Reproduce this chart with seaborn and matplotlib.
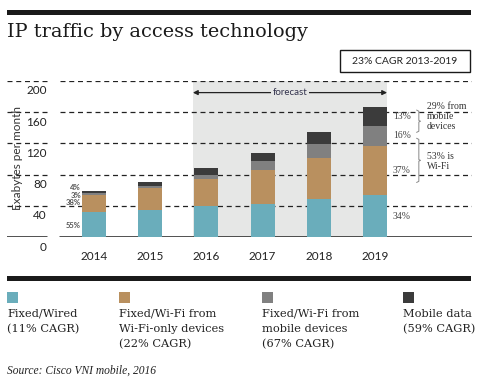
import numpy as np
import pandas as pd
import matplotlib.pyplot as plt
import matplotlib.transforms as mtransforms
from matplotlib.patches import Rectangle
import seaborn as sns

# --- data (Exabytes per month) ---
years = ['2014', '2015', '2016', '2017', '2018', '2019']
fixed_wired = [32.0, 34.9, 40.4, 43.0, 49.0, 54.1]
wifi_only = [22.5, 28.5, 34.1, 43.4, 52.7, 63.0]
wifi_mobile = [1.8, 2.6, 5.5, 11.5, 17.9, 25.5]
mobile_data = [2.5, 4.7, 8.6, 10.2, 15.4, 23.9]

series_names = ['Fixed/Wired\n(11% CAGR)',
                'Fixed/Wi-Fi from\nWi-Fi-only devices\n(22% CAGR)',
                'Fixed/Wi-Fi from\nmobile devices\n(67% CAGR)',
                'Mobile data\n(59% CAGR)']
colors = ['#6aadbb', '#b9905f', '#808080', '#3b3b3b']

y_ticks = [0, 40, 80, 120, 160, 200]
share_2014 = ['55%', '38%', '3%', '4%']
share_2014_y = [15.5, 44.5, 53.0, 63.0]
share_2019 = ['34%', '37%', '16%', '13%']

SERIF = 'Liberation Serif'
SERIF2 = 'DejaVu Serif'
SANS = 'Lato'

df = pd.DataFrame({'year': years, 'fixed': fixed_wired, 'wifi': wifi_only,
                   'wifi_mob': wifi_mobile, 'mobile': mobile_data})
layers = ['fixed', 'wifi', 'wifi_mob', 'mobile']
cum = df[layers].cumsum(axis=1)

sns.set_style("white")
W, H = 479, 385
fig = plt.figure(figsize=(W / 100, H / 100), dpi=100)

def fx(px):
    return px / W

def fy(py):
    return 1 - py / H

ax = fig.add_axes([fx(7), fy(237.3), fx(472) - fx(7), fy(80.7) - fy(237.3)])

# forecast shading
ax.axvspan(1.76, 5.215, color='#e6e7e6', zorder=0.2, lw=0)

# stacked bars: tallest first, then overlay the lower layers
for k in range(len(layers) - 1, -1, -1):
    sns.barplot(x=df['year'], y=cum[layers[k]], color=colors[k], width=0.427,
                saturation=1, linewidth=0, ax=ax, zorder=2)

ax.set_xlim(-1.548, 6.726)
ax.set_ylim(0, 200)
ax.set_xlabel('')
ax.set_ylabel('')
for s in ax.spines.values():
    s.set_visible(False)

# dashed grid, broken next to the tick labels
gap_l = (47 - 7) / 465
gap_r = (60 - 7) / 465
for t in y_ticks:
    if t == 0:
        kw = dict(color='#222222', lw=1.1, ls='-')
    else:
        kw = dict(color='#222222', lw=0.9, ls=(0, (4, 3)))
    ax.axhline(t, xmin=0, xmax=gap_l, zorder=0.5, **kw)
    ax.axhline(t, xmin=gap_r, xmax=1, zorder=0.5, **kw)

# y tick labels sit just below their grid line
ax.set_yticks([])
off = mtransforms.ScaledTranslation(0, -0.10, fig.dpi_scale_trans)
for t in y_ticks:
    ax.text(gap_l, t, str(t), transform=ax.get_yaxis_transform() + off,
            ha='right', va='center', fontsize=8.5, family=SANS, color='#222222')

ax.tick_params(axis='x', length=0, pad=10)
for lab in ax.get_xticklabels():
    lab.set_fontfamily(SANS)
    lab.set_fontsize(8.5)
    lab.set_color('#222222')

fig.text(fx(18), fy(158), 'Exabytes per month', rotation=90, ha='center',
         va='center', fontsize=8.5, family=SANS, color='#333333')

# share labels
for lab, y in zip(share_2014, share_2014_y):
    ax.text(-0.23, y, lab, ha='right', va='center', fontsize=5.5,
            family=SANS, color='#555555', fontweight='bold')
row = cum.iloc[-1].values
mids = [row[0] / 2] + [(row[i - 1] + row[i]) / 2 for i in range(1, 4)]
for lab, y in zip(share_2019, mids):
    ax.text(5.315, y, lab, ha='left', va='center', fontsize=7,
            family=SERIF, color='#444444')

# braces
def brace(x, y0, y1):
    ym = (y0 + y1) / 2
    xs = [x - 0.04, x, x, x + 0.03, x, x, x - 0.04]
    ys = [y0, y0 - 1.5, ym + 1, ym, ym - 1, y1 + 1.5, y1]
    ax.plot(xs, ys, color='#888888', lw=0.7, zorder=3)

brace(5.78, 162.5, 134.0)
brace(5.78, 126.5, 70.0)
ax.text(5.925, 172.5, '29% from\nmobile\ndevices', ha='left', va='top',
        fontsize=7, family=SERIF, color='#333333', linespacing=1.1)
ax.text(5.925, 109, '53% is\nWi-Fi', ha='left', va='top',
        fontsize=7, family=SERIF, color='#333333', linespacing=1.1)

# forecast arrow
ax.annotate('', xy=(1.76, 184.8), xytext=(5.215, 184.8),
            arrowprops=dict(arrowstyle='<|-|>', color='#222222', lw=0.9,
                            shrinkA=0, shrinkB=0, mutation_scale=7))
ax.text((1.76 + 5.215) / 2, 184.8, 'forecast', ha='center', va='center',
        fontsize=7, family=SANS, color='#33334d',
        bbox=dict(facecolor='#e6e7e6', edgecolor='none', pad=1))

# title, rules, box
fig.add_artist(Rectangle((fx(7), fy(15)), fx(471) - fx(7), fy(10) - fy(15),
                         color='#1a1a1a', transform=fig.transFigure, lw=0))
fig.add_artist(Rectangle((fx(7), fy(280.5)), fx(471) - fx(7), fy(276) - fy(280.5),
                         color='#1a1a1a', transform=fig.transFigure, lw=0))
fig.text(fx(7), fy(36.7), 'IP traffic by access technology', ha='left',
         va='baseline', fontsize=13.9, family=SERIF2, color='#1a1a1a')
fig.add_artist(Rectangle((fx(340), fy(71.5)), fx(470) - fx(340), fy(50.5) - fy(71.5),
                         facecolor='white', edgecolor='#1a1a1a', lw=1,
                         transform=fig.transFigure))
fig.text(fx(405), fy(61), '23% CAGR 2013-2019', ha='center', va='center',
         fontsize=7.5, family=SANS, color='#222222')

# legend
leg_x = [7, 119, 262, 403]
for x, c, name in zip(leg_x, colors, series_names):
    fig.add_artist(Rectangle((fx(x), fy(302.5)), fx(11), fy(292) - fy(302.5),
                             color=c, lw=0, transform=fig.transFigure))
    fig.text(fx(x), fy(309), name, ha='left', va='top', fontsize=8.2,
             family=SERIF2, color='#222222', linespacing=1.6)

fig.text(fx(7), fy(371), 'Source: Cisco VNI mobile, 2016', ha='left', va='center',
         fontsize=8.3, family=SERIF, style='italic', color='#222222')

fig.savefig('out.png', dpi=100)
